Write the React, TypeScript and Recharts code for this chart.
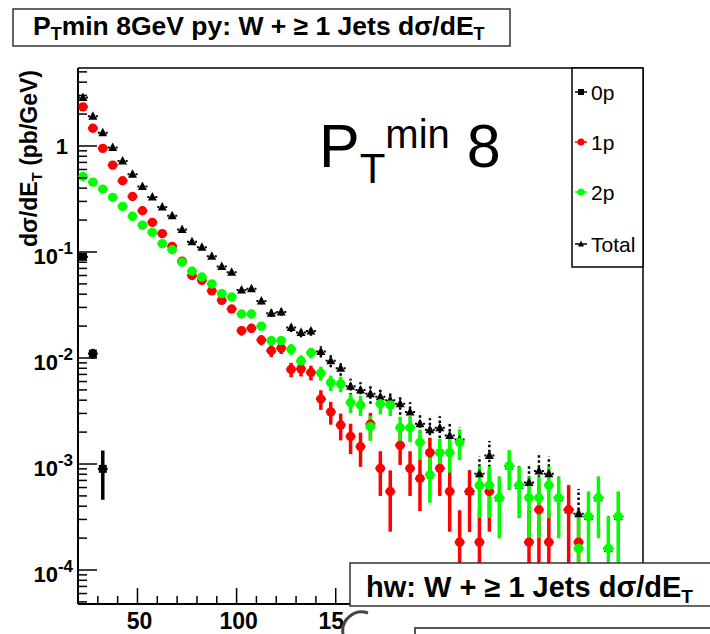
import React from "react";
import { ScatterChart, Scatter, XAxis, YAxis, ErrorBar } from "recharts";

const FONT = '"Liberation Sans", Arial, Helvetica, sans-serif';

// 5 GeV bins from 20 GeV
const binCentres = [
  22.5, 27.5, 32.5, 37.5, 42.5, 47.5, 52.5, 57.5, 62.5, 67.5,
  72.5, 77.5, 82.5, 87.5, 92.5, 97.5, 102.5, 107.5, 112.5, 117.5,
  122.5, 127.5, 132.5, 137.5, 142.5, 147.5, 152.5, 157.5, 162.5, 167.5,
  172.5, 177.5, 182.5, 187.5, 192.5, 197.5, 202.5, 207.5, 212.5, 217.5,
  222.5, 227.5, 232.5, 237.5, 242.5, 247.5, 252.5, 257.5, 262.5, 267.5,
  272.5, 277.5, 282.5, 287.5, 292.5,
];

const p0Vals = [0.09, 0.011, 0.0009];
const p0Errs = [0.004, 0.0012, 0.00044];

const p1Vals = [
  2.34, 1.47, 0.95, 0.66, 0.47, 0.334, 0.245, 0.19, 0.149, 0.113,
  0.082, 0.06, 0.054, 0.043, 0.035, 0.029, 0.0181, 0.0191, 0.0148, 0.0117,
  0.0124, 0.0078, 0.0079, 0.0073, 0.0041, 0.0031, 0.00233, 0.00182, 0.00146, 0.00238,
  0.00091, 0.00055, 0.0015, 0.00091, 0.00073, 0.00128, 0.00091, 0.00055, 0.000183, 0.00055,
  0.000183, 0.00055, null, null, null, 0.000183, 0.00037, 0.000183, null, 0.00037,
  0.000183, null, null, null, null,
];
const p1Errs = [
  0.04, 0.03, 0.02, 0.015, 0.012, 0.009, 0.007, 0.006, 0.005, 0.004,
  0.0035, 0.003, 0.0028, 0.0025, 0.0022, 0.002, 0.0018, 0.0019, 0.0016, 0.0015,
  0.0015, 0.0012, 0.0012, 0.00116, 0.00086, 0.00075, 0.00066, 0.00058, 0.00052, 0.00066,
  0.00041, 0.00032, 0.00052, 0.00041, 0.00037, 0.00048, 0.00041, 0.00032, 0.000183, 0.00032,
  0.000183, 0.00032, null, null, null, 0.000183, 0.00026, 0.000183, null, 0.00026,
  0.000183, null, null, null, null,
];

const p2Vals = [
  0.515, 0.456, 0.392, 0.327, 0.269, 0.217, 0.179, 0.153, 0.12, 0.105,
  0.08, 0.066, 0.058, 0.05, 0.0405, 0.0376, 0.026, 0.026, 0.02, 0.0146,
  0.0146, 0.0121, 0.0094, 0.0112, 0.0072, 0.00585, 0.0057, 0.0038, 0.0036, 0.00225,
  0.0037, 0.0036, 0.0022, 0.0022, 0.0016, 0.00079, 0.00128, 0.00128, 0.0016, null,
  0.00063, 0.00063, 0.00048, 0.00096, 0.00063, 0.00048, 0.00048, 0.00063, 0.00048, null,
  0.00016, 0.00032, 0.00048, 0.00016, 0.00032,
];
const p2Errs = [
  0.01, 0.009, 0.008, 0.007, 0.006, 0.005, 0.0045, 0.004, 0.0035, 0.003,
  0.0028, 0.0025, 0.0023, 0.0021, 0.002, 0.0019, 0.002, 0.002, 0.0018, 0.0015,
  0.0015, 0.0014, 0.0012, 0.0013, 0.0011, 0.00097, 0.00096, 0.00078, 0.00076, 0.0006,
  0.00077, 0.00076, 0.00059, 0.00059, 0.00051, 0.00036, 0.00045, 0.00045, 0.00051, null,
  0.00032, 0.00032, 0.00028, 0.00039, 0.00032, 0.00028, 0.00028, 0.00032, 0.00028, null,
  0.00016, 0.00023, 0.00028, 0.00016, 0.00023,
];

const totalVals = [
  2.87, 1.91, 1.33, 0.97, 0.723, 0.542, 0.415, 0.33, 0.266, 0.22,
  0.163, 0.125, 0.111, 0.091, 0.073, 0.0645, 0.0438, 0.0451, 0.0345, 0.0265,
  0.0272, 0.0194, 0.0174, 0.018, 0.0115, 0.0094, 0.008, 0.0054, 0.005, 0.0046,
  0.0043, 0.004, 0.0037, 0.0031, 0.0024, 0.0021, 0.0022, 0.00186, 0.0017, 0.00055,
  0.00081, 0.0012, 0.00048, 0.00096, 0.00063, 0.00067, 0.00086, 0.00081, 0.00048, 0.00037,
  0.00034, 0.00032, 0.00048, 0.00016, 0.00032,
];
const totalErrs = [
  0.05, 0.035, 0.025, 0.02, 0.015, 0.012, 0.01, 0.008, 0.007, 0.006,
  0.005, 0.0045, 0.004, 0.0036, 0.0032, 0.003, 0.0027, 0.0028, 0.0024, 0.0021,
  0.0021, 0.0018, 0.0017, 0.0018, 0.0014, 0.0012, 0.0012, 0.00097, 0.00092, 0.00089,
  0.00087, 0.00083, 0.00079, 0.00072, 0.00063, 0.0006, 0.00062, 0.00055, 0.00054, 0.00032,
  0.00037, 0.00045, 0.00028, 0.00039, 0.00032, 0.00033, 0.00038, 0.00037, 0.00028, 0.00026,
  0.00024, 0.00023, 0.00028, 0.00016, 0.00023,
];

// axis ticks
const yMajorTicks = [1e-4, 1e-3, 1e-2, 1e-1, 1];
const yMinorSteps = [2, 3, 4, 5, 6, 7, 8, 9];
const xTicks = [30, 40, 50, 60, 70, 80, 90, 100, 110, 120, 130, 140, 150, 160, 170, 180, 190, 200, 210, 220, 230, 240, 250, 260, 270, 280, 290, 300];
const xLabels = [50, 100, 150, 200, 250, 300];

const Y_MIN = 4.78e-5;
const Y_MAX = 5.44;
const X_MIN = 20;
const X_MAX = 305;
const HALF_BIN = 2.5;

const PLOT_LEFT = 78;
const PLOT_RIGHT = 643;
const PLOT_TOP = 68;
const PLOT_BOTTOM = 604;

const yTicks = [
  ...yMinorSteps.map((m) => m * 1e-5),
  ...[1e-4, 1e-3, 1e-2, 1e-1, 1].flatMap((d) => yMinorSteps.map((m) => m * d)),
  ...yMajorTicks,
]
  .filter((v) => v >= Y_MIN && v <= Y_MAX)
  .sort((a, b) => a - b);

function toPoints(vals: (number | null)[], errs: (number | null)[]) {
  return vals
    .map((y, i) => {
      const e = errs[i] ?? 0;
      // asymmetric form so the lower edge never drops below the log axis floor
      return y == null ? null : { x: binCentres[i], y, ey: [Math.min(e, y - Y_MIN), e], ex: HALF_BIN };
    })
    .filter((d) => d !== null);
}

const p0Data = toPoints(p0Vals, p0Errs);
const p1Data = toPoints(p1Vals, p1Errs);
const p2Data = toPoints(p2Vals, p2Errs);
const totalData = toPoints(totalVals, totalErrs);

const dotShape = (color: string) => (props: any) => {
  const { cx, cy } = props;
  if (cx == null || cy == null) return <g />;
  return <circle cx={cx} cy={cy} r={4.7} fill={color} />;
};

const triangleShape = (props: any) => {
  const { cx, cy } = props;
  if (cx == null || cy == null) return <g />;
  return <polygon points={`${cx},${cy - 5} ${cx - 4.5},${cy + 3.5} ${cx + 4.5},${cy + 3.5}`} fill="#000" />;
};

const squareShape = (props: any) => {
  const { cx, cy } = props;
  if (cx == null || cy == null) return <g />;
  return <rect x={cx - 4} y={cy - 4} width={8} height={8} fill="#000" />;
};

function YTick(props: any) {
  const { y, payload } = props;
  const v = payload.value as number;
  const lg = Math.log10(v);
  const exp = Math.round(lg);
  const major = Math.abs(lg - exp) < 1e-6;
  return (
    <g>
      <line x1={PLOT_LEFT} x2={PLOT_LEFT + (major ? 19 : 9)} y1={y} y2={y} stroke="#000" strokeWidth={1.5} />
      {major && exp === 0 && (
        <text x={68} y={y + 8} textAnchor="end" fontFamily={FONT} fontWeight="bold" fontSize={22} fill="#000">
          1
        </text>
      )}
      {major && exp !== 0 && (
        <text x={73} y={y + 12} textAnchor="end" fontFamily={FONT} fontWeight="bold" fontSize={22} fill="#000">
          10<tspan dy={-10} fontSize={17}>{`${exp}`}</tspan>
        </text>
      )}
    </g>
  );
}

function XTick(props: any) {
  const { x, payload } = props;
  const v = payload.value as number;
  const major = xLabels.includes(v);
  return (
    <g>
      <line x1={x} x2={x} y1={PLOT_BOTTOM} y2={PLOT_BOTTOM - (major ? 16 : 8)} stroke="#000" strokeWidth={1.5} />
      {major && (
        <text x={x + 2} y={629} textAnchor="middle" fontFamily={FONT} fontWeight="bold" fontSize={23} fill="#000">
          {v}
        </text>
      )}
    </g>
  );
}

const legendItems = [
  { label: "0p", color: "#000", kind: "square", y: 92 },
  { label: "1p", color: "#ff0000", kind: "dot", y: 142 },
  { label: "2p", color: "#00ff00", kind: "dot", y: 192 },
  { label: "Total", color: "#000", kind: "tri", y: 244 },
];

export default function App() {
  return (
    <div style={{ position: "absolute", left: 0, top: 0, width: 710, height: 634, background: "#fff", overflow: "hidden" }}>
      <ScatterChart width={710} height={634} margin={{ top: PLOT_TOP, right: 710 - PLOT_RIGHT, bottom: 0, left: 0 }}>
        <XAxis
          type="number"
          dataKey="x"
          domain={[X_MIN, X_MAX]}
          allowDataOverflow
          ticks={xTicks}
          interval={0}
          height={634 - PLOT_BOTTOM}
          axisLine={{ stroke: "#000", strokeWidth: 2 }}
          tickLine={false}
          tick={(p: any) => <XTick {...p} />}
        />
        <YAxis
          type="number"
          dataKey="y"
          scale="log"
          domain={[Y_MIN, Y_MAX]}
          allowDataOverflow
          ticks={yTicks}
          interval={0}
          width={PLOT_LEFT}
          axisLine={{ stroke: "#000", strokeWidth: 2 }}
          tickLine={false}
          tick={(p: any) => <YTick {...p} />}
        />
        <Scatter data={totalData} shape={triangleShape} isAnimationActive={false}>
          <ErrorBar dataKey="ey" direction="y" width={0} stroke="#000" strokeWidth={2.5} strokeDasharray="2.5 2.5" isAnimationActive={false} />
          <ErrorBar dataKey="ex" direction="x" width={0} stroke="#000" strokeWidth={2} strokeDasharray="2 2" isAnimationActive={false} />
        </Scatter>
        <Scatter data={p0Data} shape={squareShape} isAnimationActive={false}>
          <ErrorBar dataKey="ey" direction="y" width={0} stroke="#000" strokeWidth={3.5} isAnimationActive={false} />
          <ErrorBar dataKey="ex" direction="x" width={0} stroke="#000" strokeWidth={2} isAnimationActive={false} />
        </Scatter>
        <Scatter data={p1Data} shape={dotShape("#ff0000")} isAnimationActive={false}>
          <ErrorBar dataKey="ey" direction="y" width={0} stroke="#ff0000" strokeWidth={3.5} isAnimationActive={false} />
          <ErrorBar dataKey="ex" direction="x" width={0} stroke="#ff0000" strokeWidth={2} isAnimationActive={false} />
        </Scatter>
        <Scatter data={p2Data} shape={dotShape("#00ff00")} isAnimationActive={false}>
          <ErrorBar dataKey="ey" direction="y" width={0} stroke="#00ff00" strokeWidth={3.5} isAnimationActive={false} />
          <ErrorBar dataKey="ex" direction="x" width={0} stroke="#00ff00" strokeWidth={2} isAnimationActive={false} />
        </Scatter>
      </ScatterChart>

      <svg width={710} height={634} style={{ position: "absolute", left: 0, top: 0, pointerEvents: "none" }} fontFamily={FONT}>
        {/* frame top / right */}
        <line x1={PLOT_LEFT} x2={PLOT_RIGHT} y1={PLOT_TOP} y2={PLOT_TOP} stroke="#000" strokeWidth={1.5} />
        <line x1={PLOT_RIGHT} x2={PLOT_RIGHT} y1={PLOT_TOP} y2={PLOT_BOTTOM} stroke="#000" strokeWidth={1.5} />

        {/* title box */}
        <rect x={13} y={9} width={497} height={37} fill="#fff" stroke="#333" strokeWidth={1.5} />
        <text x={33} y={35} fontSize={26.5} fontWeight="bold" fill="#000">
          P<tspan fontSize={18} dy={5}>T</tspan>
          <tspan dy={-5}>min 8GeV py: W + ≥ 1 Jets dσ/dE</tspan>
          <tspan fontSize={18} dy={5}>T</tspan>
        </text>

        {/* y-axis title, aligned to the top end of the axis */}
        <text transform="translate(37,70) rotate(-90)" textAnchor="end" fontSize={23} fontWeight="bold" fill="#000">
          dσ/dE<tspan fontSize={15} dy={5}>T</tspan>
          <tspan dy={-5}> (pb/GeV)</tspan>
        </text>

        {/* big annotation */}
        <text x={319} y={167} fontSize={61} fill="#000">
          P<tspan fontSize={42} dy={16}>T</tspan>
          <tspan fontSize={40} dy={-35}>min</tspan>
          <tspan fontSize={61} dy={19}> 8</tspan>
        </text>

        {/* legend */}
        <rect x={572} y={PLOT_TOP} width={PLOT_RIGHT - 572} height={199} fill="#fff" stroke="#000" strokeWidth={1.5} />
        {legendItems.map((it) => (
          <g key={it.label}>
            <line x1={575} x2={587} y1={it.y} y2={it.y} stroke={it.color} strokeWidth={1.5} />
            {it.kind === "dot" && <circle cx={581} cy={it.y} r={3.5} fill={it.color} />}
            {it.kind === "square" && <rect x={578} y={it.y - 3} width={6} height={6} fill={it.color} />}
            {it.kind === "tri" && <polygon points={`581,${it.y - 3.5} 578,${it.y + 2.5} 584,${it.y + 2.5}`} fill={it.color} />}
            <text x={591} y={it.y + 8} fontSize={21} fill="#000">
              {it.label}
            </text>
          </g>
        ))}

        {/* neighbouring figure pieces */}
        <rect x={345} y={606} width={365} height={28} fill="#fff" />
        <path d="M 343 634 A 19 19 0 0 1 368 613" fill="none" stroke="#444" strokeWidth={3} />
        <path d="M 415 634 V 628 H 710" fill="none" stroke="#555" strokeWidth={2} />

        {/* hw title box */}
        <rect x={350} y={563} width={370} height={43} fill="#fff" stroke="#333" strokeWidth={1.5} />
        <text x={366} y={597} fontSize={29} fontWeight="bold" fill="#000">
          hw: W + ≥ 1 Jets dσ/dE<tspan fontSize={19} dy={6}>T</tspan>
        </text>
      </svg>
    </div>
  );
}
